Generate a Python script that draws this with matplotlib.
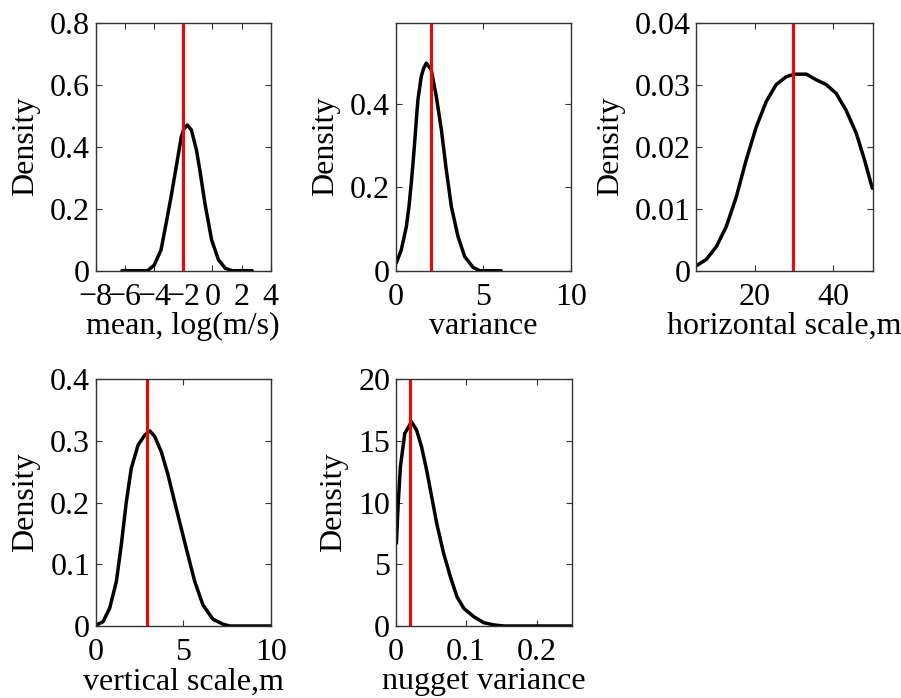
import matplotlib
matplotlib.use("Agg")
import matplotlib.pyplot as plt

plt.rcParams['font.family'] = ['Liberation Serif', 'DejaVu Serif']
plt.rcParams['font.size'] = 23

# Panel 1: mean, log(m/s)
mean_x = [-6.2, -4.44, -3.99, -3.52, -3.17, -2.83, -2.48, -2.13, -1.95, -1.72, -1.44, -1.09,
          -0.86, -0.51, -0.05, 0.42, 0.88, 1.34, 2.73]
mean_y = [0.0, 0.0, 0.018, 0.067, 0.153, 0.239, 0.335, 0.432, 0.458, 0.470, 0.454, 0.389,
          0.325, 0.217, 0.099, 0.035, 0.008, 0.0, 0.0]
mean_true = -2.0

# Panel 2: variance
var_x = [0.03, 0.32, 0.61, 0.76, 0.89, 0.99, 1.08, 1.18, 1.27, 1.46, 1.6, 1.75, 2.03, 2.32,
         2.61, 2.89, 3.18, 3.56, 3.94, 4.42, 4.8, 6.03]
var_y = [0.018, 0.050, 0.106, 0.154, 0.210, 0.258, 0.306, 0.362, 0.41, 0.466, 0.486, 0.498,
         0.482, 0.418, 0.338, 0.242, 0.154, 0.082, 0.034, 0.008, 0.0, 0.0]
var_true = 2.0

# Panel 3: horizontal scale, m
hs_x = [5.08, 7.6, 10.2, 12.7, 15.26, 17.8, 20.35, 22.9, 25.4, 28.0, 30.1, 33.1, 35.6, 38.2,
        40.7, 43.2, 45.8, 47.9, 49.9]
hs_y = [0.0008, 0.0018, 0.0039, 0.0071, 0.0119, 0.0179, 0.0232, 0.0273, 0.0300, 0.0313,
        0.0317, 0.0317, 0.0308, 0.0300, 0.0286, 0.0259, 0.0222, 0.0179, 0.0133]
hs_true = 29.6

# Panel 4: vertical scale, m
vs_x = [0.04, 0.42, 0.8, 1.18, 1.46, 1.75, 2.03, 2.42, 2.8, 3.09, 3.37, 3.75, 4.13, 4.51,
        4.89, 5.27, 5.66, 6.13, 6.7, 7.27, 7.66, 10.0]
vs_y = [0.0016, 0.007, 0.029, 0.072, 0.131, 0.201, 0.255, 0.293, 0.309, 0.316, 0.307, 0.282,
        0.245, 0.201, 0.158, 0.115, 0.072, 0.034, 0.011, 0.003, 0.0, 0.0]
vs_true = 2.92

# Panel 5: nugget variance
nug_x = [0.001, 0.0033, 0.0067, 0.0129, 0.0224, 0.0296, 0.0368, 0.044, 0.0511, 0.0583,
         0.068, 0.0776, 0.087, 0.0967, 0.111, 0.125, 0.14, 0.154, 0.25]
nug_y = [6.7, 9.66, 12.9, 15.6, 16.54, 15.87, 14.5, 12.6, 10.47, 8.3, 5.9, 4.0, 2.37, 1.43,
         0.75, 0.27, 0.08, 0.0, 0.0]
nug_true = 0.020

W, H = 901, 698
fig = plt.figure(figsize=(W / 100, H / 100), dpi=100)

def rect(l, t, r, b):
    return [l / W, 1 - b / H, (r - l) / W, (b - t) / H]

panels = [
    dict(r=rect(95.7, 22.7, 270.7, 270.7), x=mean_x, y=mean_y, t=mean_true,
         xlim=(-8, 4), ylim=(0, 0.8), xt=[-8, -6, -4, -2, 0, 2, 4],
         xl=['\u22128', '\u22126', '\u22124', '\u22122', '0', '2', '4'],
         yt=[0, 0.2, 0.4, 0.6, 0.8], yl=['0', '0.2', '0.4', '0.6', '0.8'],
         xlab='mean, log(m/s)'),
    dict(r=rect(395.7, 22.7, 570.7, 270.7), x=var_x, y=var_y, t=var_true,
         xlim=(0, 10), ylim=(0, 0.595), xt=[0, 5, 10], xl=['0', '5', '10'],
         yt=[0, 0.2, 0.4], yl=['0', '0.2', '0.4'], xlab='variance'),
    dict(r=rect(696, 22.7, 872.7, 270.7), x=hs_x, y=hs_y, t=hs_true,
         xlim=(5, 50), ylim=(0, 0.04), xt=[20, 40], xl=['20', '40'],
         yt=[0, 0.01, 0.02, 0.03, 0.04], yl=['0', '0.01', '0.02', '0.03', '0.04'],
         xlab='horizontal scale,m'),
    dict(r=rect(95.7, 379, 270.7, 626), x=vs_x, y=vs_y, t=vs_true,
         xlim=(0, 10), ylim=(0, 0.4), xt=[0, 5, 10], xl=['0', '5', '10'],
         yt=[0, 0.1, 0.2, 0.3, 0.4], yl=['0', '0.1', '0.2', '0.3', '0.4'],
         xlab='vertical scale,m'),
    dict(r=rect(395.7, 379, 571.7, 626), x=nug_x, y=nug_y, t=nug_true,
         xlim=(0, 0.25), ylim=(0, 20), xt=[0, 0.1, 0.2], xl=['0', '0.1', '0.2'],
         yt=[0, 5, 10, 15, 20], yl=['0', '5', '10', '15', '20'],
         xlab='nugget variance'),
]

for p in panels:
    ax = fig.add_axes(p['r'])
    ax.plot(p['x'], p['y'], color='black', lw=2.5, solid_joinstyle='round',
            solid_capstyle='round')
    ax.axvline(p['t'], color='#ff0000', lw=2.2)
    ax.set_xlim(*p['xlim'])
    ax.set_ylim(*p['ylim'])
    ax.set_xticks(p['xt'])
    ax.set_xticklabels(p['xl'])
    ax.set_yticks(p['yt'])
    ax.set_yticklabels(p['yl'])
    ax.tick_params(direction='in', length=4, width=0.8, top=True, right=True,
                   labelsize=23, colors='#333333', labelcolor='black')
    ax.tick_params(axis='x', pad=9)
    ax.tick_params(axis='y', pad=4)
    for s in ax.spines.values():
        s.set_color('#333333')
        s.set_linewidth(1.0)
    ax.set_ylabel('Density', fontsize=23, labelpad=7)
    ax.set_xlabel(p['xlab'], fontsize=23, labelpad=0)

fig.savefig('out.png', dpi=100)
